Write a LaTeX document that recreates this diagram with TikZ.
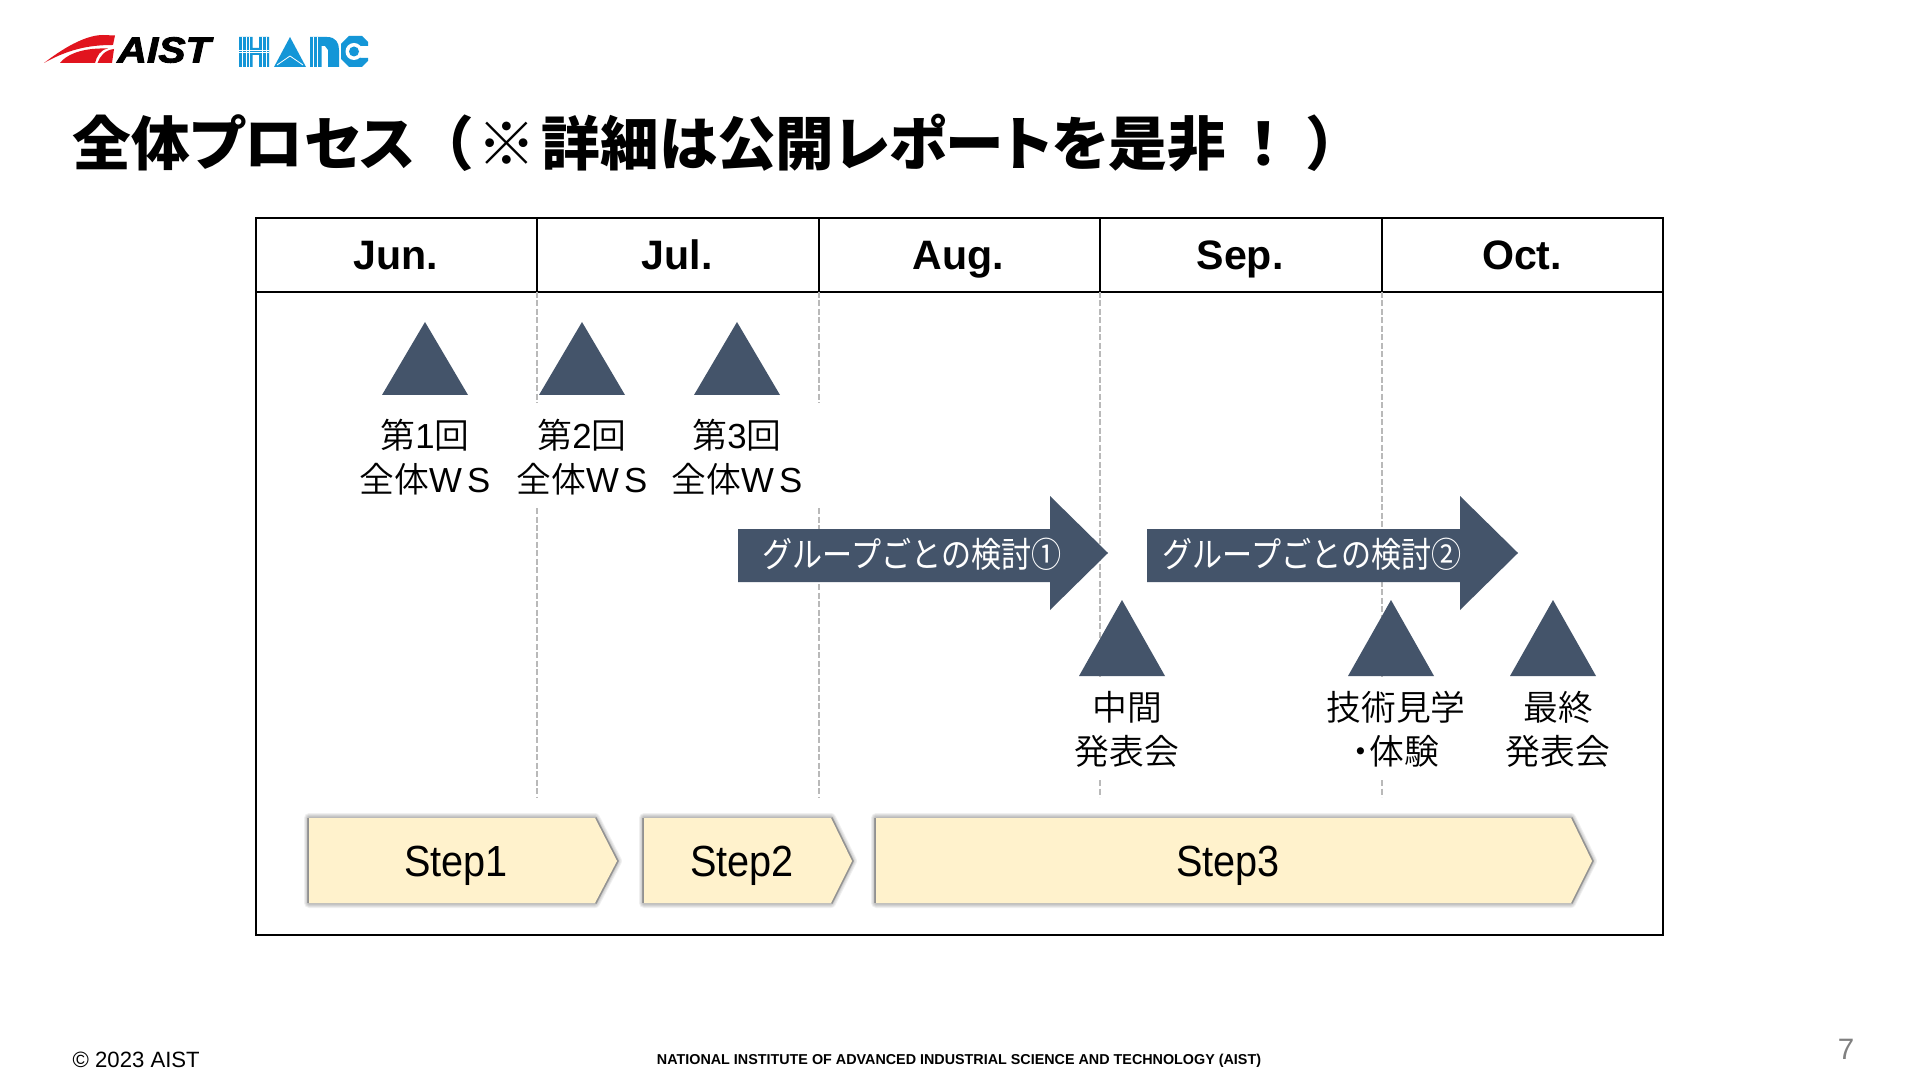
\documentclass[tikz,border=0pt]{standalone}
\usepackage{fontspec}
\setmainfont{Liberation Sans}
\newfontfamily\jpfont[RawFeature=+palt]{Noto Sans CJK JP DemiLight}
\newfontfamily\jptitle[RawFeature=+palt]{Noto Sans CJK JP Black}
\newfontfamily\jpflecha[FakeStretch=.865]{Noto Sans CJK JP}
\newfontfamily\estrecha[FakeStretch=.91]{Liberation Sans}
\newfontfamily\logofont[FakeStretch=1.13,FakeBold=2.5]{Liberation Sans Bold Italic}
\usepackage{xcolor}
\usetikzlibrary{calc}
\definecolor{AzulPizarra}{RGB}{68,84,106}
\definecolor{CremaPaso}{RGB}{255,242,204}
\definecolor{RojoLogo}{RGB}{225,20,30}
\definecolor{AzulLogo}{RGB}{20,150,215}
\tikzset{
  hito/.style={fill=AzulPizarra},
  rotulo/.style={font=\fontsize{9.9}{12.5}\selectfont\jpfont,align=center,inner sep=1pt,text=black},
  mes/.style={font=\fontsize{11.7}{12}\selectfont\bfseries,text=black,anchor=base,inner sep=0pt},
  guia/.style={gray!55,line width=0.025cm,dash pattern=on 0.06cm off 0.025cm},
  sombra/.style={black,opacity=.06,line join=round},
  borde/.style={black,opacity=.22,line width=0.035cm},
  pasotxt/.style={font=\fontsize{12.4}{13}\selectfont\estrecha,text=black,anchor=base,inner sep=0pt},
  flecha/.style={fill=AzulPizarra},
  flechatxt/.style={font=\fontsize{9.9}{10}\selectfont\jpflecha,text=white},
  rayita/.style={white,line width=0.008cm},
}
% pentagono con sombra: izquierda, hombro, punta
\newcommand{\pasoforma}[3]{
  \foreach \w in {0.1,0.08,0.06,0.04,0.02}
    \draw[sombra,line width=\w cm] (#1,-8.18) -- (#2,-8.18) -- (#3,-8.61) -- (#2,-9.03) -- (#1,-9.03) -- cycle;
  \draw[borde] (#1,-8.18) -- (#1,-9.03);
  \draw[borde] (#2,-8.18) -- (#3,-8.61) -- (#2,-9.03);
  \fill[CremaPaso] (#1,-8.18) -- (#2,-8.18) -- (#3,-8.61) -- (#2,-9.03) -- (#1,-9.03) -- cycle;
}
\begin{document}
\begin{tikzpicture}
  \useasboundingbox (0,0) rectangle (19.2,-10.8);
  \fill[white] (0,0) rectangle (19.2,-10.8);

  % logo AIST
  \fill[RojoLogo] (0.44,-0.63) .. controls (0.62,-0.49) and (0.85,-0.35) .. (1.03,-0.35) -- (1.15,-0.355)
    -- (1.13,-0.45) .. controls (0.95,-0.45) and (0.72,-0.47) .. cycle;
  \fill[RojoLogo] (0.60,-0.63) .. controls (0.66,-0.55) and (0.80,-0.49) .. (1.0,-0.485) -- (1.08,-0.485)
    .. controls (1.0,-0.5) and (0.97,-0.56) .. (0.95,-0.63) -- cycle;
  \fill[RojoLogo] (0.975,-0.63) .. controls (1.0,-0.56) and (1.05,-0.5) .. (1.14,-0.49) -- (1.12,-0.63) -- cycle;
  \node[inner sep=0pt,font=\fontsize{10.3}{11}\selectfont\logofont] (aist) at (1.64,-0.5) {AIST};

  % logo HARC
  \fill[AzulLogo] (2.39,-0.37) rectangle (2.525,-0.67) (2.59,-0.37) rectangle (2.69,-0.67) (2.525,-0.48) rectangle (2.59,-0.55);
  \foreach \x in {2.425,2.46,2.495,2.625,2.66}
    \draw[rayita] (\x,-0.37) -- (\x,-0.67);
  \foreach \y in {0.505,0.525}
    \draw[rayita] (2.39,-\y) -- (2.69,-\y);
  \fill[AzulLogo] (2.74,-0.67) -- (2.90,-0.37) -- (3.06,-0.67) -- cycle;
  \draw[rayita] (2.77,-0.65) -- (2.90,-0.56) -- (3.03,-0.65);
  \fill[AzulLogo] (3.10,-0.37) -- (3.27,-0.37) .. controls (3.36,-0.37) and (3.39,-0.43) .. (3.39,-0.50)
    -- (3.39,-0.67) -- (3.28,-0.67) -- (3.28,-0.50) -- (3.25,-0.46) -- (3.215,-0.46) -- (3.215,-0.67) -- (3.10,-0.67) -- cycle;
  \foreach \x in {3.135,3.17}
    \draw[rayita] (\x,-0.37) -- (\x,-0.67);
  \fill[AzulLogo] (3.49,-0.36) -- (3.62,-0.36) -- (3.68,-0.42) -- (3.68,-0.46) -- (3.60,-0.46) -- (3.60,-0.58)
    -- (3.68,-0.58) -- (3.68,-0.61) -- (3.62,-0.67) -- (3.49,-0.67) -- (3.41,-0.59) -- (3.41,-0.44) -- cycle;
  \fill[white] (3.54,-0.515) circle (0.085);
  \fill[AzulLogo] (3.54,-0.515) circle (0.05);

  \node[anchor=west,inner sep=0pt,font=\fontsize{16.7}{18}\selectfont\jptitle] (titulo) at (0.72,-1.43) {全体プロセス\kern 0.45em（\kern 0.1em ※\kern 0.1em 詳細は公開レポートを是非\kern 0.4em！\kern 0.5em）};

  % marco y meses
  \draw[thick] (2.56,-2.18) rectangle (16.63,-9.35);
  \draw[thick] (2.56,-2.92) -- (16.63,-2.92);
  \foreach \x/\mesn in {3.96/Jun., 6.77/Jul., 9.58/Aug., 12.40/Sep., 15.22/Oct.}
    \node[mes] (m\mesn) at (\x,-2.70) {\mesn};
  \foreach \x in {5.37,8.19,11.0,13.82}
    \draw[thick] (\x,-2.18) -- (\x,-2.92);
  \foreach \x in {5.37,8.19}{
    \draw[guia] (\x,-2.92) -- (\x,-4.03);
    \draw[guia] (\x,-5.08) -- (\x,-7.97);
  }
  \foreach \x in {11.0,13.82}{
    \draw[guia] (\x,-2.92) -- (\x,-6.77);
    \draw[guia] (\x,-7.80) -- (\x,-7.97);
  }

  % talleres
  \foreach \x/\n in {4.25/1,5.82/2,7.37/3}{
    \fill[hito] (\x-0.43,-3.95) -- (\x,-3.22) -- (\x+0.43,-3.95) -- cycle;
    \node[rotulo] (ws\n) at (\x,-4.57) {第{\rmfamily\n}回\\全体{\rmfamily W\kern 0.15em S}};
  }
  \foreach \x in {11.22,13.91,15.53}
    \fill[hito] (\x,-6.0) -- (\x-0.43,-6.76) -- (\x+0.43,-6.76) -- cycle;
  \node[rotulo] (medio) at (11.27,-7.29) {中間\\発表会};
  \node[rotulo] (visita) at (13.96,-7.29) {技術見学\\・体験};
  \node[rotulo] (final) at (15.58,-7.29) {最終\\発表会};

  % grupos
  \fill[flecha] (7.38,-5.29) -- (10.5,-5.29) -- (10.5,-4.96) -- (11.08,-5.53) -- (10.5,-6.1) -- (10.5,-5.82) -- (7.38,-5.82) -- cycle;
  \fill[flecha] (11.47,-5.29) -- (14.6,-5.29) -- (14.6,-4.96) -- (15.18,-5.53) -- (14.6,-6.1) -- (14.6,-5.82) -- (11.47,-5.82) -- cycle;
  \node[flechatxt] (g1) at (9.12,-5.54) {グループごとの検討①};
  \node[flechatxt] (g2) at (13.12,-5.54) {グループごとの検討②};

  % pasos
  \pasoforma{3.09}{5.95}{6.17}
  \pasoforma{6.44}{8.31}{8.52}
  \pasoforma{8.76}{15.71}{15.92}
  \node[pasotxt] (p1) at (4.56,-8.76) {Step1};
  \node[pasotxt] (p2) at (7.42,-8.76) {Step2};
  \node[pasotxt] (p3) at (12.28,-8.76) {Step3};

  % pie
  \node[anchor=west,inner sep=0pt,font=\fontsize{6.3}{7}\selectfont] (copia) at (0.72,-10.6) {© 2023 AIST};
  \node[inner sep=0pt,font=\fontsize{4.08}{5}\selectfont\bfseries] (inst) at (9.59,-10.61) {NATIONAL INSTITUTE OF ADVANCED INDUSTRIAL SCIENCE AND TECHNOLOGY (AIST)};
  \node[inner sep=0pt,font=\fontsize{8.4}{9}\selectfont,text=gray] (pag) at (18.46,-10.49) {7};
\end{tikzpicture}
\end{document}
